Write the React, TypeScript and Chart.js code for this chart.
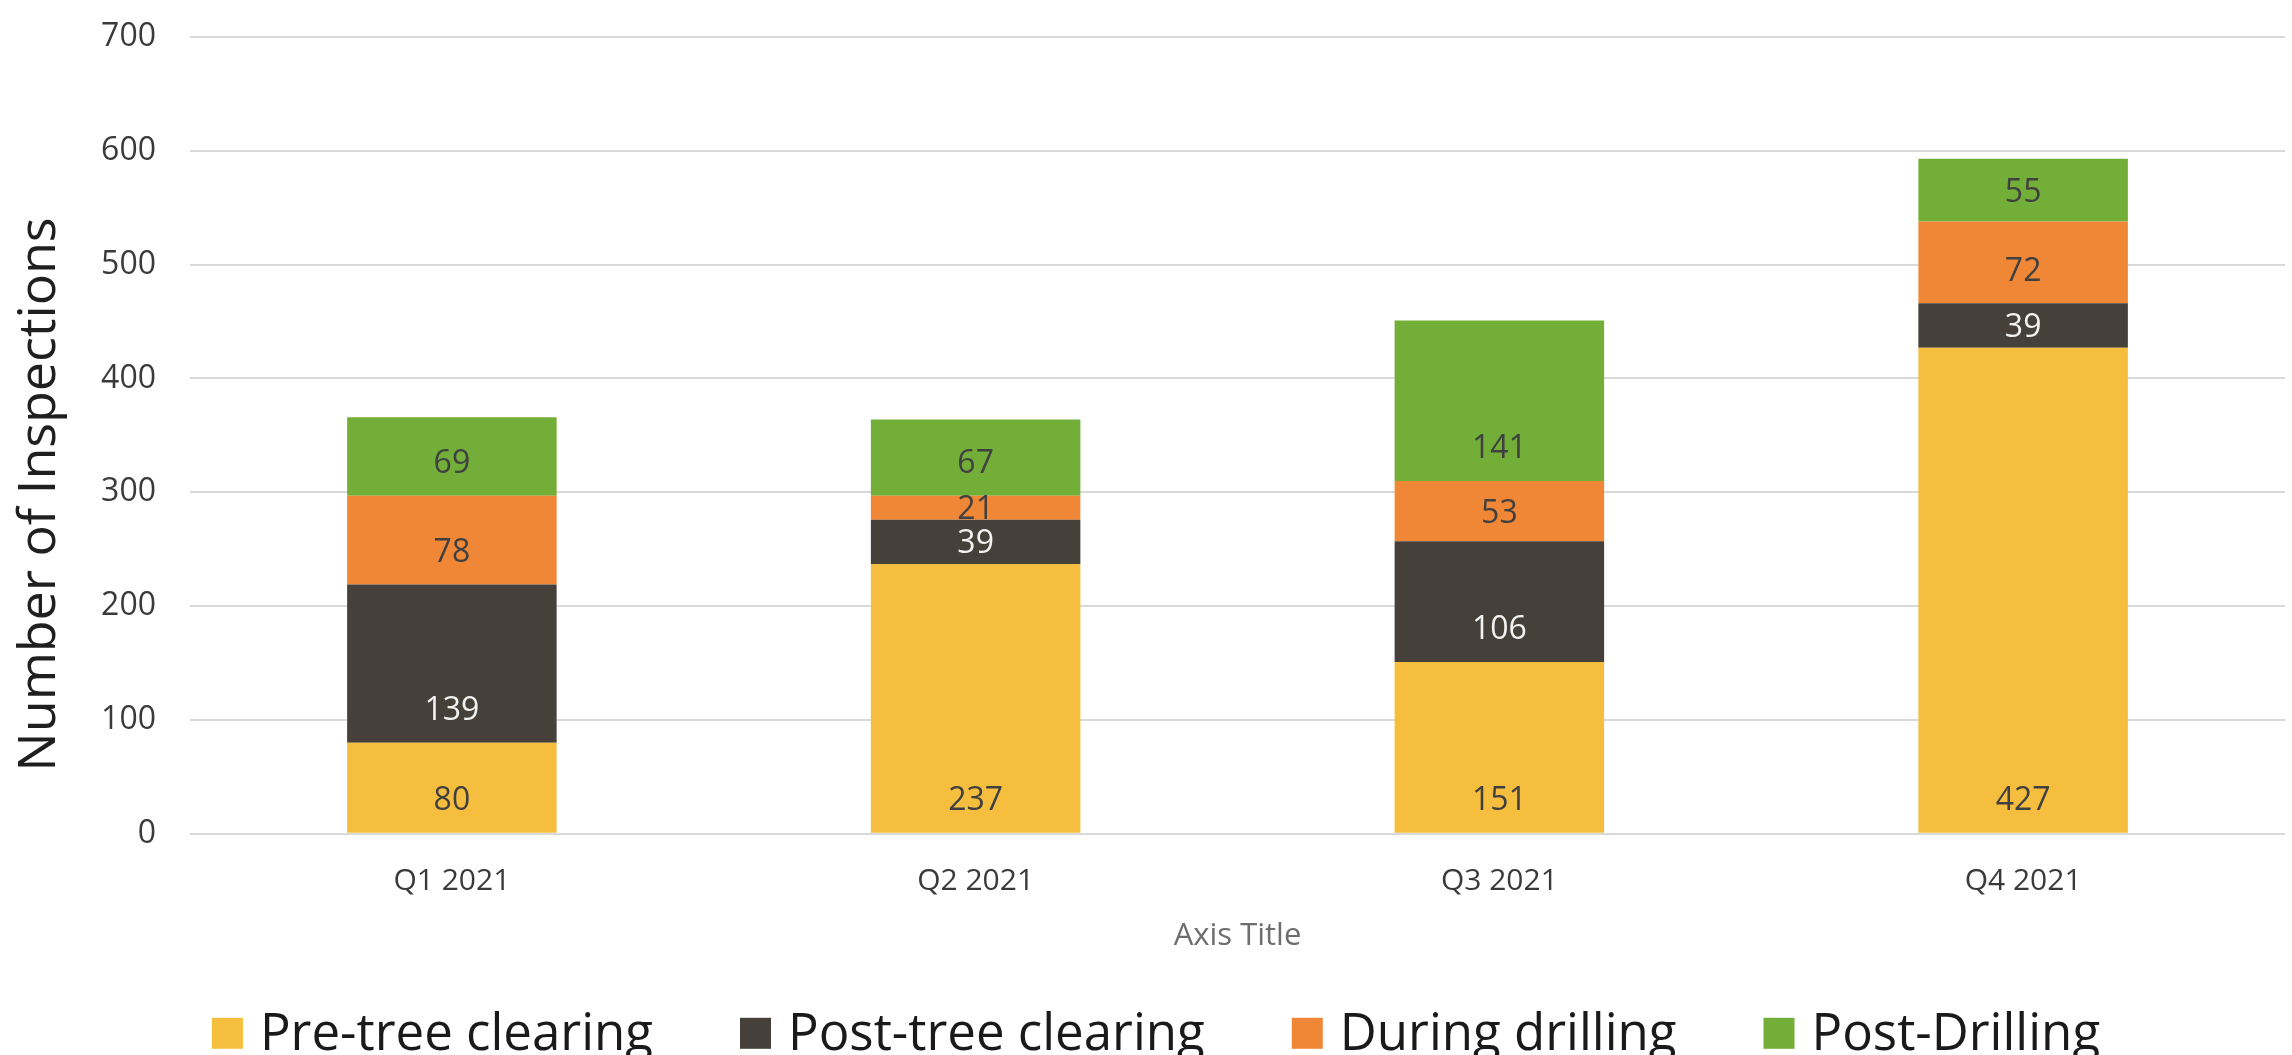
import React, { useEffect, useRef } from "react";
import { Chart, registerables } from "chart.js";

Chart.register(...registerables);

const categories = ["Q1 2021", "Q2 2021", "Q3 2021", "Q4 2021"];
const preTreeClearing = [80, 237, 151, 427];
const postTreeClearing = [139, 39, 106, 39];
const duringDrilling = [78, 21, 53, 72];
const postDrilling = [69, 67, 141, 55];
const seriesNames = ["Pre-tree clearing", "Post-tree clearing", "During drilling", "Post-Drilling"];
const seriesColors = ["#F6BE3E", "#454039", "#EF8736", "#73AF38"];
const labelColors = ["#404040", "#F2F2F2", "#404040", "#404040"];
const yTitle = "Number of Inspections";
const xTitle = "Axis Title";

const FONT = "'Open Sans', 'Noto Sans', sans-serif";

const dataLabelPlugin = {
  id: "segmentLabels",
  afterDatasetsDraw(chart: any) {
    const ctx = chart.ctx;
    ctx.save();
    ctx.font = `32px ${FONT}`;
    ctx.textAlign = "center";
    ctx.textBaseline = "alphabetic";
    chart.data.datasets.forEach((ds: any, i: number) => {
      const meta = chart.getDatasetMeta(i);
      meta.data.forEach((el: any, j: number) => {
        const { x, y, base } = el.getProps(["x", "y", "base"], true);
        const center = (y + base) / 2;
        const cy = Math.max(center, base - 34);
        ctx.fillStyle = labelColors[i];
        ctx.fillText(String(ds.data[j]), x, cy + 32 * 0.357);
      });
    });
    ctx.restore();
  },
};

const yTitlePlugin = {
  id: "yTitle",
  afterDraw(chart: any) {
    const { ctx, chartArea } = chart;
    ctx.save();
    ctx.font = `52px ${FONT}`;
    ctx.fillStyle = "#1F1F1F";
    ctx.textAlign = "center";
    ctx.textBaseline = "alphabetic";
    ctx.translate(chartArea.left - 135, (chartArea.top + chartArea.bottom) / 2 + 59);
    ctx.rotate(-Math.PI / 2);
    ctx.fillText(yTitle, 0, 0);
    ctx.restore();
  },
};

const legendPlugin = {
  id: "bottomLegend",
  afterDraw(chart: any) {
    const { ctx, chartArea, width } = chart;
    const box = 31;
    const boxGap = 17;
    const itemGap = 87;
    ctx.save();
    ctx.font = `51px ${FONT}`;
    ctx.textBaseline = "alphabetic";
    ctx.textAlign = "left";
    const items = chart.data.datasets.map((ds: any) => ({
      text: ds.label,
      color: ds.backgroundColor,
      w: ctx.measureText(ds.label).width,
    }));
    const total =
      items.reduce((s: number, it: any) => s + box + boxGap + it.w, 0) + itemGap * (items.length - 1);
    let x = width / 2 + 10 - total / 2;
    const baseline = chartArea.bottom + 216;
    items.forEach((it: any) => {
      ctx.fillStyle = it.color;
      ctx.fillRect(x, baseline - 32, box, box);
      x += box + boxGap;
      ctx.fillStyle = "#1A1A1A";
      ctx.fillText(it.text, x, baseline);
      x += it.w + itemGap;
    });
    ctx.restore();
  },
};

export default function App() {
  const canvasRef = useRef<HTMLCanvasElement | null>(null);

  useEffect(() => {
    document.body.style.margin = "0";
    document.body.style.overflow = "hidden";
    const canvas = canvasRef.current;
    if (!canvas) return;
    const seriesData = [preTreeClearing, postTreeClearing, duringDrilling, postDrilling];
    const chart = new Chart(canvas, {
      type: "bar",
      data: {
        labels: categories,
        datasets: seriesData.map((d, i) => ({
          label: seriesNames[i],
          data: d,
          backgroundColor: seriesColors[i],
          borderWidth: 0,
          categoryPercentage: 1,
          barPercentage: 0.4,
        })),
      },
      options: {
        responsive: false,
        animation: false,
        layout: { padding: { top: 37, right: 7, left: 0, bottom: 100 } },
        plugins: {
          legend: { display: false },
          tooltip: { enabled: false },
        },
        scales: {
          x: {
            stacked: true,
            grid: { display: false, drawTicks: false },
            border: { display: false },
            ticks: {
              font: { family: FONT, size: 30 },
              color: "#3A3A3A",
              padding: 30,
            },
            title: {
              display: true,
              text: xTitle,
              font: { family: FONT, size: 31 },
              color: "#6E6E6E",
              padding: { top: -12, bottom: 0 },
            },
          },
          y: {
            stacked: true,
            min: 0,
            max: 700,
            ticks: {
              stepSize: 100,
              font: { family: FONT, size: 32 },
              color: "#3A3A3A",
              padding: 34,
            },
            grid: { color: "#D9D9D9", lineWidth: 2, drawTicks: false },
            border: { display: false },
            afterFit: (scale: any) => {
              scale.width = 190;
              scale.paddingTop = 0;
              scale.paddingBottom = 0;
            },
          },
        },
      },
      plugins: [dataLabelPlugin, yTitlePlugin, legendPlugin],
    });
    return () => chart.destroy();
  }, []);

  return (
    <div style={{ width: 2292, height: 1055 }}>
      <canvas ref={canvasRef} width={2292} height={1055} style={{ display: "block" }} />
    </div>
  );
}
